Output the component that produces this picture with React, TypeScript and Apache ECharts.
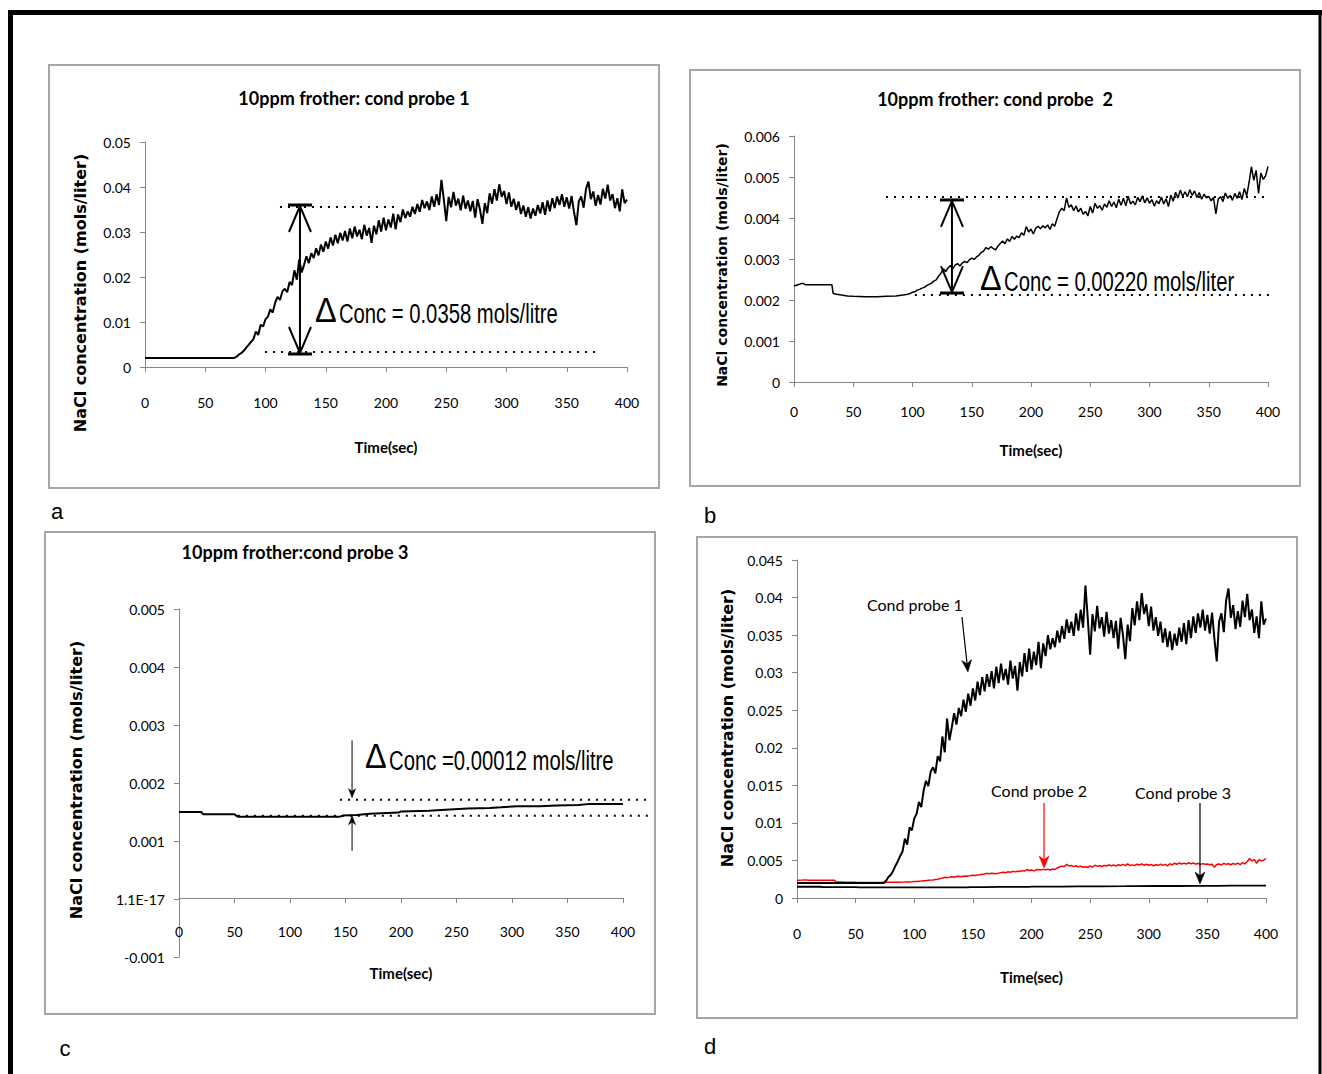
import React, { useEffect, useRef } from 'react';
import * as echarts from 'echarts';

// ---------- data (time s, NaCl concentration mol/L) ----------
const probe1: [number, number][] = [
  [0, 0.002], [74, 0.002], [76, 0.0023], [78, 0.0028], [80, 0.0031], [82, 0.0036], [84, 0.0043], [86, 0.0049],
  [88, 0.0056], [90, 0.0062], [92, 0.0079], [94, 0.0071], [96, 0.0094], [98, 0.009], [100, 0.0106], [102, 0.0112],
  [104, 0.0128], [106, 0.0121], [108, 0.0143], [110, 0.0156], [112, 0.0149], [114, 0.0168], [116, 0.0174], [118, 0.0166],
  [120, 0.0189], [122, 0.0182], [124, 0.0215], [126, 0.0194], [128, 0.0239], [130, 0.021], [132, 0.0227], [134, 0.0246],
  [136, 0.0231], [138, 0.0253], [140, 0.0242], [142, 0.0264], [144, 0.0248], [146, 0.0272], [148, 0.0256], [150, 0.0279],
  [152, 0.0263], [154, 0.0288], [156, 0.027], [158, 0.0294], [160, 0.0275], [162, 0.0298], [164, 0.0281], [166, 0.0302],
  [168, 0.0279], [170, 0.0308], [172, 0.0286], [174, 0.0312], [176, 0.029], [178, 0.0305], [180, 0.0284], [182, 0.0316],
  [184, 0.0292], [186, 0.0309], [188, 0.0276], [190, 0.0314], [192, 0.0295], [194, 0.0326], [196, 0.0301], [198, 0.0332],
  [200, 0.0304], [202, 0.0328], [204, 0.031], [206, 0.0341], [208, 0.0306], [210, 0.0339], [212, 0.0322], [214, 0.035],
  [216, 0.0331], [218, 0.0346], [220, 0.0334], [222, 0.0356], [224, 0.034], [226, 0.0362], [228, 0.0345], [230, 0.0371],
  [232, 0.0353], [234, 0.0368], [236, 0.0349], [238, 0.0379], [240, 0.0356], [242, 0.0384], [244, 0.036], [246, 0.0416],
  [248, 0.0372], [250, 0.0324], [252, 0.0378], [254, 0.0355], [256, 0.0389], [258, 0.0359], [260, 0.0374], [262, 0.0348],
  [264, 0.0381], [266, 0.0352], [268, 0.037], [270, 0.0346], [272, 0.0369], [274, 0.0332], [276, 0.0373], [278, 0.035],
  [280, 0.0318], [282, 0.0364], [284, 0.0342], [286, 0.0386], [288, 0.0363], [290, 0.0395], [292, 0.037], [294, 0.0406],
  [296, 0.0378], [298, 0.0391], [300, 0.0362], [302, 0.0388], [304, 0.0356], [306, 0.0374], [308, 0.0349], [310, 0.0368],
  [312, 0.034], [314, 0.0359], [316, 0.0334], [318, 0.0355], [320, 0.033], [322, 0.0352], [324, 0.0336], [326, 0.036],
  [328, 0.0341], [330, 0.0366], [332, 0.0338], [334, 0.037], [336, 0.0346], [338, 0.0375], [340, 0.0353], [342, 0.0379],
  [344, 0.036], [346, 0.0384], [348, 0.0356], [350, 0.0377], [352, 0.0352], [354, 0.038], [356, 0.0345], [358, 0.0315],
  [360, 0.0368], [362, 0.0379], [364, 0.0354], [366, 0.0396], [368, 0.0412], [370, 0.0373], [372, 0.039], [374, 0.0358],
  [376, 0.0382], [378, 0.0361], [380, 0.0396], [382, 0.0374], [384, 0.0405], [386, 0.037], [388, 0.0384], [390, 0.0353],
  [392, 0.0375], [394, 0.0346], [396, 0.0395], [398, 0.0364], [400, 0.0372],
];

const probe2: [number, number][] = [
  [0, 0.00234], [2, 0.00236], [4, 0.00238], [6, 0.0024], [8, 0.0024], [10, 0.00237], [32, 0.00237], [33, 0.00216],
  [36, 0.00214], [40, 0.00212], [45, 0.0021], [50, 0.00209], [60, 0.00208], [70, 0.00208], [78, 0.00209], [86, 0.0021],
  [92, 0.00212], [96, 0.00214], [98, 0.00216], [100, 0.00219], [102, 0.0022], [104, 0.00224], [106, 0.00226], [108, 0.00229],
  [110, 0.00231], [112, 0.00235], [114, 0.00238], [116, 0.00241], [118, 0.00246], [120, 0.00249], [122, 0.00258], [124, 0.00265],
  [126, 0.00276], [128, 0.00269], [130, 0.00278], [132, 0.00284], [134, 0.00276], [136, 0.00285], [138, 0.00289], [140, 0.00283],
  [142, 0.0029], [144, 0.00294], [146, 0.00291], [148, 0.00298], [150, 0.00302], [152, 0.00299], [154, 0.00305], [156, 0.00309],
  [158, 0.00316], [160, 0.00319], [162, 0.00328], [164, 0.00324], [166, 0.0033], [168, 0.00326], [170, 0.00322], [172, 0.00331],
  [174, 0.00338], [176, 0.00344], [178, 0.00337], [180, 0.00349], [182, 0.00343], [184, 0.00355], [186, 0.00348], [188, 0.00356],
  [190, 0.00352], [192, 0.00364], [194, 0.00358], [196, 0.00379], [198, 0.00366], [200, 0.00373], [202, 0.00361], [204, 0.00375],
  [206, 0.0038], [208, 0.00374], [210, 0.00381], [212, 0.00376], [214, 0.00383], [216, 0.00372], [218, 0.00386], [220, 0.0038],
  [222, 0.00399], [224, 0.00415], [226, 0.00424], [228, 0.00418], [230, 0.00449], [232, 0.00426], [234, 0.00432], [236, 0.00418],
  [238, 0.00429], [240, 0.00415], [242, 0.00424], [244, 0.00409], [246, 0.00416], [248, 0.00405], [250, 0.00428], [252, 0.00412],
  [254, 0.00436], [256, 0.00424], [258, 0.0043], [260, 0.00419], [262, 0.00434], [264, 0.00426], [266, 0.00442], [268, 0.00428],
  [270, 0.00439], [272, 0.00425], [274, 0.00446], [276, 0.00431], [278, 0.00448], [280, 0.0043], [282, 0.00453], [284, 0.00434],
  [286, 0.00441], [288, 0.00432], [290, 0.0045], [292, 0.0044], [294, 0.00454], [296, 0.00437], [298, 0.00449], [300, 0.00436],
  [302, 0.00445], [304, 0.00429], [306, 0.00442], [308, 0.00435], [310, 0.00451], [312, 0.00434], [314, 0.00447], [316, 0.00428],
  [318, 0.00456], [320, 0.00441], [322, 0.00463], [324, 0.00449], [326, 0.00468], [328, 0.00453], [330, 0.00464], [332, 0.00452],
  [334, 0.00469], [336, 0.00455], [338, 0.00466], [340, 0.0045], [342, 0.00462], [344, 0.00446], [346, 0.00458], [348, 0.00449],
  [350, 0.00453], [352, 0.00442], [354, 0.0045], [356, 0.0041], [358, 0.00446], [360, 0.00452], [362, 0.0044], [364, 0.00461],
  [366, 0.00448], [368, 0.00455], [370, 0.00443], [372, 0.0046], [374, 0.00448], [376, 0.00464], [378, 0.00445], [380, 0.00472],
  [382, 0.00454], [384, 0.00486], [386, 0.00525], [388, 0.00492], [390, 0.00516], [392, 0.0046], [394, 0.0051], [396, 0.00494],
  [398, 0.00503], [400, 0.00526],
];

const probe3: [number, number][] = [
  [0, 0.0015], [20, 0.0015], [22, 0.00146], [50, 0.00146], [53, 0.00142], [145, 0.00142], [148, 0.00144], [160, 0.00145],
  [172, 0.00147], [198, 0.00149], [200, 0.00151], [225, 0.00152], [240, 0.00154], [260, 0.00156], [280, 0.00157],
  [290, 0.00158], [305, 0.0016], [325, 0.0016], [340, 0.00161], [360, 0.00162], [370, 0.00164], [390, 0.00164], [400, 0.00164],
];

const panelTitles = ['10ppm frother: cond probe 1', '10ppm frother: cond probe  2', '10ppm frother:cond probe 3'];
const yTitle = 'NaCl concentration (mols/liter)';
const xTitle = 'Time(sec)';
const deltaTexts = ['Conc = 0.0358 mols/litre', 'Conc = 0.00220 mols/liter', 'Conc =0.00012 mols/litre'];
const probeNames = ['Cond probe 1', 'Cond probe 2', 'Cond probe 3'];
const panelLetters = ['a', 'b', 'c', 'd'];

// ---------- styling helpers ----------
const AX = '#868686';
const NARROW = 'Liberation Sans';

function xAxisCfg(i: number, margin: number, nameGap: number, offset = 0) {
  return {
    type: 'value', gridIndex: i, min: 0, max: 400, interval: 50, offset,
    axisLine: { show: true, onZero: false, lineStyle: { color: AX, width: 1 } },
    axisTick: { show: true, length: 5, lineStyle: { color: AX } },
    axisLabel: { fontFamily: 'Lato', fontSize: 14, color: '#000', margin },
    splitLine: { show: false },
    name: xTitle, nameLocation: 'middle', nameGap,
    nameTextStyle: { fontFamily: 'Lato', fontWeight: 'bold', fontSize: 15, color: '#000' },
  };
}
function yAxisCfg(i: number, min: number, max: number, interval: number, formatter?: any) {
  return {
    type: 'value', gridIndex: i, min, max, interval,
    axisLine: { show: true, onZero: false, lineStyle: { color: AX, width: 1 } },
    axisTick: { show: true, length: 5, lineStyle: { color: AX } },
    axisLabel: { fontFamily: 'Lato', fontSize: 14, color: '#000', margin: 14, formatter },
    splitLine: { show: false },
  };
}

type P = number[];
const ln = (a: P, b: P, w = 1.5, stroke = '#000', dash?: number[]) => ({
  type: 'line', shape: { x1: a[0], y1: a[1], x2: b[0], y2: b[1] },
  style: { stroke, lineWidth: w, lineDash: dash, fill: null },
});
const dotted = (a: P, b: P) => ln(a, b, 2, '#000', [2, 6]);

function dblArrow(top: P, bot: P) {
  const x = top[0];
  return [
    ln(top, bot, 2),
    ln([x - 12, top[1]], [x + 12, top[1]], 3),
    ln([x - 12, bot[1]], [x + 12, bot[1]], 3),
    { type: 'polyline', shape: { points: [[x - 11, top[1] + 27], [x, top[1] + 1], [x + 11, top[1] + 27]] }, style: { stroke: '#000', lineWidth: 2, fill: null } },
    { type: 'polyline', shape: { points: [[x - 11, bot[1] - 27], [x, bot[1] - 1], [x + 11, bot[1] - 27]] }, style: { stroke: '#000', lineWidth: 2, fill: null } },
  ];
}

function arrow(from: P, to: P, color = '#000', w = 1.2, len = 12, half = 4.5) {
  const dx = to[0] - from[0], dy = to[1] - from[1];
  const L = Math.hypot(dx, dy) || 1;
  const ux = dx / L, uy = dy / L, nx = -uy, ny = ux;
  const bx = to[0] - ux * len, by = to[1] - uy * len;
  const mx = to[0] - ux * len * 0.7, my = to[1] - uy * len * 0.7;
  return [
    ln(from, [mx, my], w, color),
    { type: 'polygon', shape: { points: [[to[0], to[1]], [bx + nx * half, by + ny * half], [mx, my], [bx - nx * half, by - ny * half]] }, style: { fill: color, stroke: color, lineWidth: 0.5 } },
  ];
}

function deltaText(pt: P, text: string) {
  return [
    { type: 'text', x: pt[0], y: pt[1], scaleX: 0.9, style: { text: 'Δ', fontSize: 36, fontFamily: NARROW, fill: '#000', align: 'left', textAlign: 'left', verticalAlign: 'bottom', textVerticalAlign: 'bottom' } },
    { type: 'text', x: pt[0] + 24, y: pt[1], scaleX: 0.75, style: { text, fontSize: 27, fontFamily: NARROW, fill: '#000', align: 'left', textAlign: 'left', verticalAlign: 'bottom', textVerticalAlign: 'bottom' } },
  ];
}

function plainText(pt: P, text: string, color = '#000') {
  return { type: 'text', x: pt[0], y: pt[1], style: { text, fontSize: 16, fontFamily: 'Lato', fill: color, align: 'left', textAlign: 'left', verticalAlign: 'middle', textVerticalAlign: 'middle' } };
}

function annoSeries(idx: number, build: (c: (x: number, y: number) => P) => any[]) {
  return {
    type: 'custom', xAxisIndex: idx, yAxisIndex: idx, data: [[0, 0]], silent: true, clip: false, z: 10,
    renderItem: (_p: any, api: any) => ({ type: 'group', children: build((x, y) => api.coord([x, y])) }),
  };
}

function lineSeries(idx: number, data: [number, number][], color: string, width: number) {
  return {
    type: 'line', xAxisIndex: idx, yAxisIndex: idx, data, showSymbol: false, symbol: 'none',
    lineStyle: { color, width }, silent: true,
  };
}

function gtext(x: number, y: number, text: string, font: any, rotation = 0) {
  return {
    type: 'text', x, y, rotation,
    style: { text, fill: '#000', align: 'center', textAlign: 'center', verticalAlign: 'middle', textVerticalAlign: 'middle', ...font },
  };
}

function buildOption() {
  const titleFont = { fontFamily: 'Lato', fontWeight: 'bold', fontSize: 18 };
  const yFont = (s: number) => ({ fontFamily: 'DejaVu Sans', fontWeight: 'bold', fontSize: s });
  const letterFont = { fontFamily: NARROW, fontSize: 22 };
  const box = (x: number, y: number, w: number, h: number) => ({
    type: 'rect', shape: { x, y, width: w, height: h }, style: { fill: null, stroke: '#a6a6a6', lineWidth: 2 }, silent: true,
  });

  return {
    animation: false,
    backgroundColor: '#fff',
    grid: [
      { left: 145, top: 142, width: 482, height: 225 },
      { left: 794, top: 136, width: 474, height: 246 },
      { left: 179, top: 609, width: 444, height: 348 },
      { left: 797, top: 560, width: 469, height: 338 },
    ],
    xAxis: [xAxisCfg(0, 28, 72), xAxisCfg(1, 22, 60), xAxisCfg(2, 26, 67, -59), xAxisCfg(3, 28, 71)],
    yAxis: [
      yAxisCfg(0, 0, 0.05, 0.01),
      yAxisCfg(1, 0, 0.006, 0.001),
      yAxisCfg(2, -0.001, 0.005, 0.001, (v: number) => (Math.abs(v) < 1e-9 ? '1.1E-17' : String(parseFloat(v.toFixed(3))))),
      yAxisCfg(3, 0, 0.045, 0.005),
    ],
    graphic: [
      // outer frame
      { type: 'line', shape: { x1: 8, y1: 12.5, x2: 1322, y2: 12.5 }, style: { stroke: '#000', lineWidth: 5 } },
      { type: 'line', shape: { x1: 10.5, y1: 10, x2: 10.5, y2: 1074 }, style: { stroke: '#000', lineWidth: 5 } },
      { type: 'line', shape: { x1: 1320, y1: 10, x2: 1320, y2: 1074 }, style: { stroke: '#000', lineWidth: 3 } },
      box(49, 65, 610, 423),
      box(690, 70, 610, 416),
      box(45, 532, 610, 482),
      box(697, 537, 600, 481),
      gtext(354, 98, panelTitles[0], titleFont),
      gtext(995, 99, panelTitles[1], titleFont),
      gtext(295, 552, panelTitles[2], titleFont),
      gtext(80, 293, yTitle, yFont(16), Math.PI / 2),
      gtext(722, 265, yTitle, yFont(14), Math.PI / 2),
      gtext(76, 780, yTitle, yFont(16), Math.PI / 2),
      gtext(727, 728, yTitle, yFont(16), Math.PI / 2),
      gtext(57, 511, panelLetters[0], letterFont),
      gtext(710, 515, panelLetters[1], letterFont),
      gtext(65, 1048, panelLetters[2], letterFont),
      gtext(710, 1046, panelLetters[3], letterFont),
    ],
    series: [
      lineSeries(0, probe1, '#000', 2),
      lineSeries(1, probe2, '#000', 1.5),
      lineSeries(2, probe3, '#000', 2),
      lineSeries(3, probe3, '#000', 1.8),
      lineSeries(3, probe2, '#ff0000', 1.5),
      lineSeries(3, probe1, '#000', 2),
      annoSeries(0, (c) => [
        dotted(c(112, 0.03556), c(211.6, 0.03556)),
        dotted(c(99.6, 0.00333), c(373.4, 0.00333)),
        ...dblArrow(c(128.6, 0.036), c(128.6, 0.00289)),
        ...deltaText(c(141, 0.00889), deltaTexts[0]),
      ]),
      annoSeries(1, (c) => [
        dotted(c(77.6, 0.004512), c(401, 0.004512)),
        dotted(c(102, 0.002122), c(401, 0.002122)),
        ...dblArrow(c(133.3, 0.00444), c(133.3, 0.00217)),
        ...deltaText(c(157, 0.00212), deltaTexts[1]),
      ]),
      annoSeries(2, (c) => [
        dotted(c(145, 0.001713), c(422.5, 0.001713)),
        dotted(c(53, 0.001436), c(422.5, 0.001436)),
        ...arrow(c(155.9, 0.002734), c(155.9, 0.001747), '#000', 1, 9, 3.5),
        ...arrow(c(155.9, 0.00083), c(155.9, 0.001436), '#000', 1, 9, 3.5),
        ...deltaText(c(167.6, 0.00216), deltaTexts[2]),
      ]),
      annoSeries(3, (c) => [
        plainText(c(59.7, 0.03914), probeNames[0]),
        plainText(c(165.5, 0.01425), probeNames[1]),
        plainText(c(288.3, 0.01411), probeNames[2]),
        ...arrow(c(140.7, 0.03741), c(145.8, 0.03009), '#000', 1.2, 12, 5),
        ...arrow(c(210.7, 0.01265), c(210.7, 0.003994), '#ff0000', 1.2, 12, 5),
        ...arrow(c(343.7, 0.01265), c(343.7, 0.001864), '#000', 1.2, 12, 5),
      ]),
    ],
  };
}

export default function App() {
  const ref = useRef<HTMLDivElement>(null);
  useEffect(() => {
    const chart = echarts.init(ref.current!, undefined, { renderer: 'svg' });
    chart.setOption(buildOption() as any);
    return () => chart.dispose();
  }, []);
  return <div ref={ref} style={{ position: 'fixed', left: 0, top: 0, width: 1322, height: 1074, background: '#fff' }} />;
}
